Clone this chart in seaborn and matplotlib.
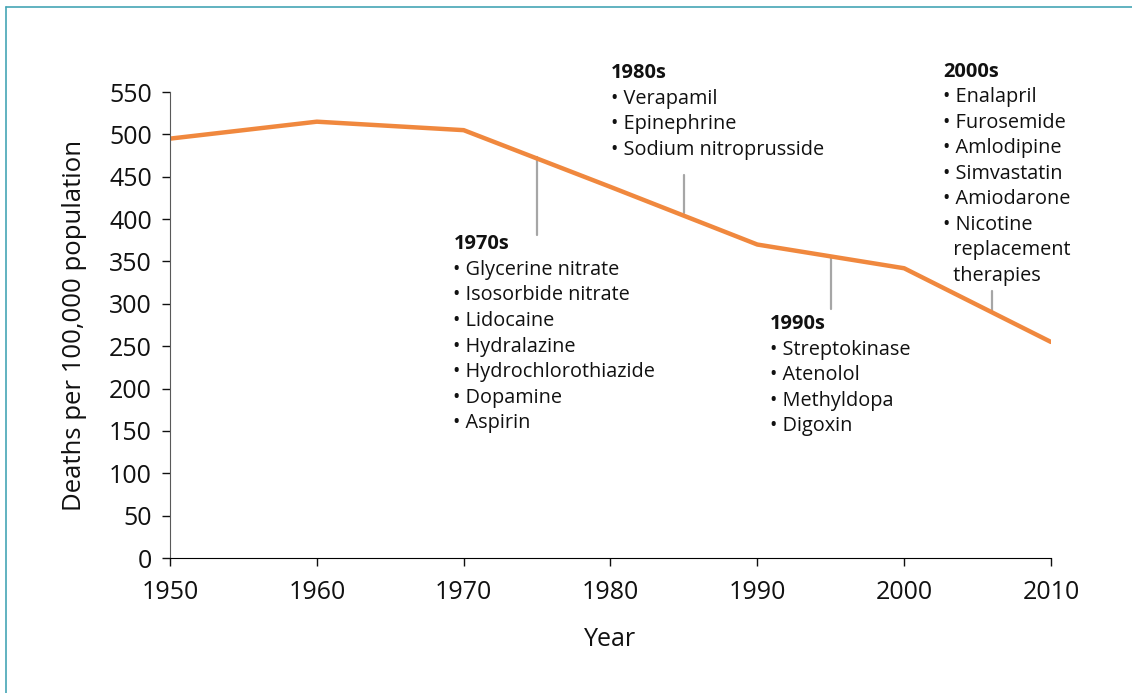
import matplotlib.pyplot as plt
import seaborn as sb
import pandas as pd

years = [1950, 1960, 1970, 1980, 1990, 2000, 2010]
deaths = [495, 515, 505, 438, 370, 342, 255]

decades = ['1970s', '1980s', '1990s', '2000s']
drugs = [
    ['Glycerine nitrate', 'Isosorbide nitrate', 'Lidocaine', 'Hydralazine',
     'Hydrochlorothiazide', 'Dopamine', 'Aspirin'],
    ['Verapamil', 'Epinephrine', 'Sodium nitroprusside'],
    ['Streptokinase', 'Atenolol', 'Methyldopa', 'Digoxin'],
    ['Enalapril', 'Furosemide', 'Amlodipine', 'Simvastatin', 'Amiodarone',
     'Nicotine', '  replacement', '  therapies'],
]
# where each decade's text block starts (year, deaths)
label_x = [1969.3, 1980.05, 1990.85, 2002.65]
label_y = [382, 584, 288, 586]
# grey pointer lines (year, from, to)
pointer_x = [1975, 1985, 1995, 2006]
pointer_y0 = [473, 452, 354, 315]
pointer_y1 = [381, 407, 294, 292]

sb.set_style('ticks')
plt.rcParams['font.family'] = ['Open Sans', 'DejaVu Sans']
plt.rcParams['text.color'] = '#111111'
plt.rcParams['axes.labelcolor'] = '#111111'
plt.rcParams['xtick.color'] = '#111111'
plt.rcParams['ytick.color'] = '#111111'

df = pd.DataFrame({'Year': years, 'Deaths': deaths})

fig = plt.figure(figsize=(11.32, 6.93), dpi=100)
ax = fig.add_axes([0.1502, 0.1948, 0.7782, 0.6724])

sb.lineplot(data=df, x='Year', y='Deaths', color='#f0883e', linewidth=3.2, ax=ax)

for px, a, b in zip(pointer_x, pointer_y0, pointer_y1):
    ax.plot([px, px], [a, b], color='#a6a6a6', linewidth=1.6, zorder=1)

for name, items, lx, ly in zip(decades, drugs, label_x, label_y):
    ax.annotate(name, xy=(lx, ly), xytext=(0, 0), textcoords='offset points',
                fontsize=14.4, fontweight='bold', va='top', ha='left',
                annotation_clip=False)
    for i, d in enumerate(items):
        txt = d if d.startswith(' ') else '• ' + d
        ax.annotate(txt, xy=(lx, ly), xytext=(0, -18.4 * (i + 1)),
                    textcoords='offset points', fontsize=14.3,
                    va='top', ha='left', annotation_clip=False)

ax.set_xlim(1950, 2010)
ax.set_ylim(0, 550)
ax.set_xticks(years)
ax.set_yticks(range(0, 551, 50))
ax.tick_params(labelsize=18, length=6, width=1)
ax.tick_params(axis='x', pad=10)
ax.tick_params(axis='y', pad=7)
ax.set_xlabel('Year', fontsize=18, labelpad=16)
ax.set_ylabel('Deaths per 100,000 population', fontsize=18.5, labelpad=16)
sb.despine(ax=ax)
ax.spines['left'].set_color('#595959')
ax.spines['bottom'].set_color('#000000')

# teal frame on the left and top edges
fig.add_artist(plt.Line2D([0.0053, 0.0053], [0, 0.99], color='#45a5b5',
                          linewidth=1.2, transform=fig.transFigure))
fig.add_artist(plt.Line2D([0.0053, 1], [0.99, 0.99], color='#45a5b5',
                          linewidth=1.2, transform=fig.transFigure))

plt.savefig('out.png', dpi=100)
